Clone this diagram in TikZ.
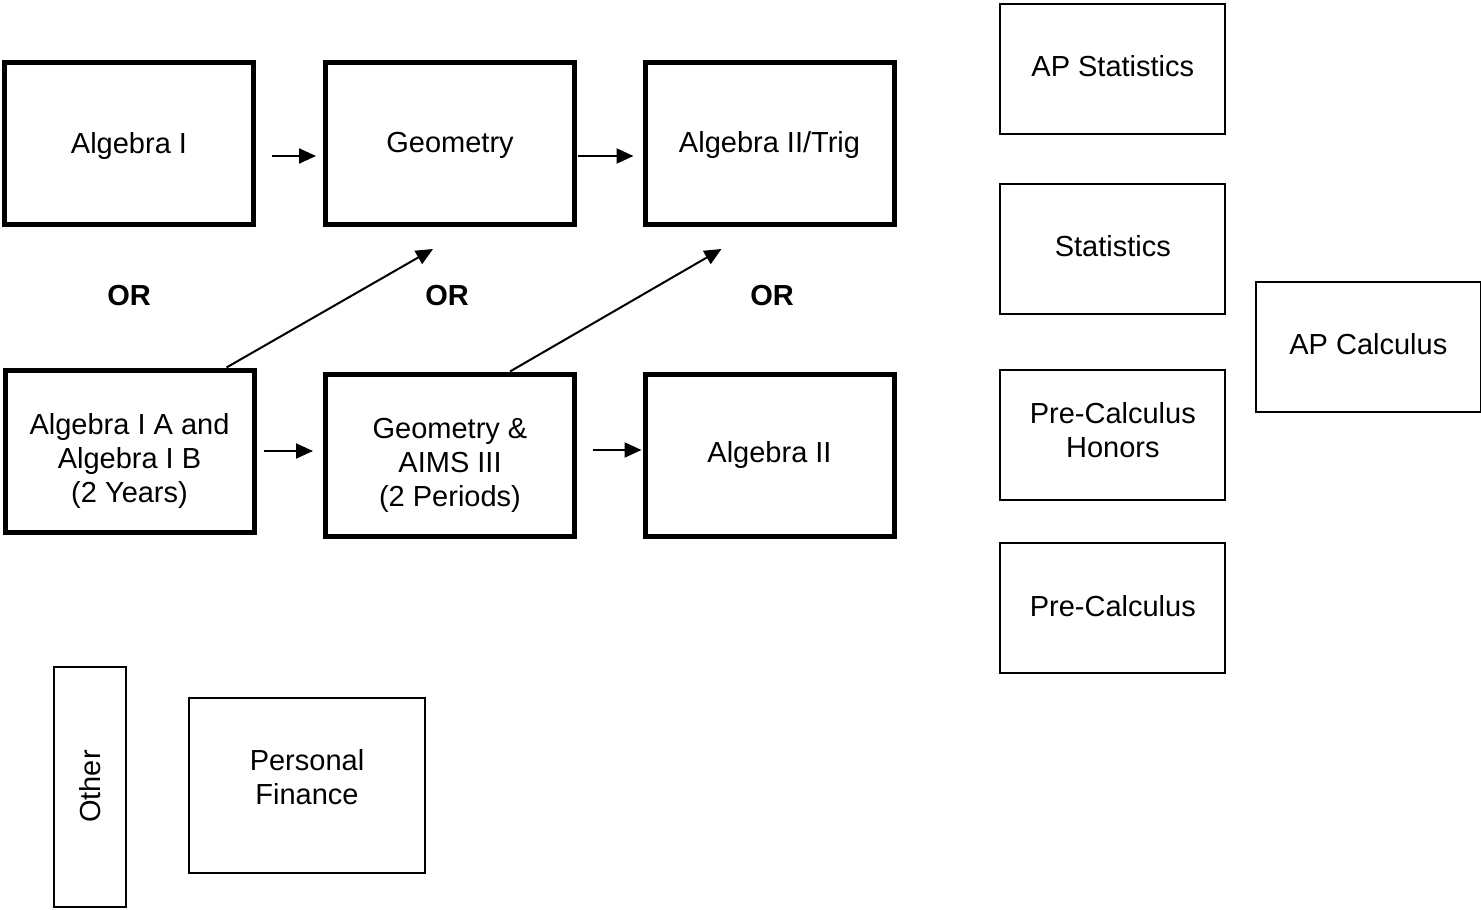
\documentclass[tikz,border=0pt]{standalone}
\usepackage{fontspec}
\setmainfont{Liberation Sans}
\usetikzlibrary{arrows.meta}
% text set a little higher or lower in its box
\newcommand{\boxtext}[2]{\raisebox{#1}[\height][\depth]{\begin{tabular}{@{}c@{}}#2\end{tabular}}}

\begin{document}
\begin{tikzpicture}[x=0.5pt,y=-0.5pt,
    font=\fontsize{14.5}{17}\selectfont,
    thick box/.style={draw,line width=2.5pt,minimum width=124.5pt,minimum height=81pt,align=center,inner sep=0pt},
    thin box/.style={draw,line width=1pt,minimum width=112.5pt,minimum height=65pt,align=center,inner sep=0pt},
    orlabel/.style={font=\fontsize{14.5}{17}\selectfont\bfseries},
    step arrow/.style={-{Triangle[length=8.5pt,width=7.5pt]},line width=1pt}]
  \useasboundingbox (0,0) rectangle (1481,909);
  % first row
  \node[thick box] (alg1) at (129,143.5) {\boxtext{-1.5pt}{Algebra I}};
  \node[thick box] (geo) at (450,143.5) {\boxtext{-1pt}{Geometry}};
  \node[thick box] (trig) at (769.5,143.5) {\boxtext{-1pt}{Algebra II/Trig}};
  % the OR between the rows
  \node[orlabel] (or1) at (129,296) {OR};
  \node[orlabel] (or2) at (447,296) {OR};
  \node[orlabel] (or3) at (772,296) {OR};
  % second row
  \node[thick box] (algab) at (129.5,451) {\boxtext{-5.5pt}{Algebra I A and\\Algebra I B\\(2 Years)}};
  \node[thick box] (aims) at (450,455) {\boxtext{-5.5pt}{Geometry \&\\AIMS III\\(2 Periods)}};
  \node[thick box] (alg2) at (769.5,455) {Algebra II};
  \draw[step arrow,shorten <=8pt,shorten >=3.5pt] ([shift={(0,12.5)}]alg1.east) -- ([shift={(0,12.5)}]geo.west);
  \draw[step arrow,shorten <=0.5pt,shorten >=4.5pt] ([shift={(0,12.5)}]geo.east) -- ([shift={(0,12.5)}]trig.west);
  \draw[step arrow,shorten <=3.5pt,shorten >=5pt] (algab.east) -- (algab.east -| aims.west);
  \draw[step arrow,shorten <=8pt,shorten >=0.5pt] ([shift={(0,-5)}]aims.east) -- ([shift={(0,-5)}]alg2.west);
  \draw[step arrow] ([shift={(97,0)}]algab.north) -- ([shift={(-17,22)}]geo.south);
  \draw[step arrow] ([shift={(60,0)}]aims.north) -- ([shift={(-48,22)}]trig.south);
  % right column
  \node[thin box] (apstat) at (1112.8,69) {\boxtext{-0.5pt}{AP Statistics}};
  \node[thin box] (stat) at (1112.8,249) {\boxtext{-0.5pt}{Statistics}};
  \node[thin box] (prechon) at (1112.8,435) {\boxtext{0.5pt}{Pre-Calculus\\Honors}};
  \node[thin box] (prec) at (1112.8,608) {\boxtext{-1pt}{Pre-Calculus}};
  \node[thin box] (apcalc) at (1368.3,347.3) {\boxtext{0pt}{AP Calculus}};
  % other
  \node[thin box,rotate=90,minimum width=120pt,minimum height=36pt] (other) at (90,786.5) {Other};
  \node[thin box,minimum width=118pt,minimum height=87.5pt] (pfin) at (307,785.5) {\boxtext{2.5pt}{Personal\\Finance}};
\end{tikzpicture}
\end{document}
